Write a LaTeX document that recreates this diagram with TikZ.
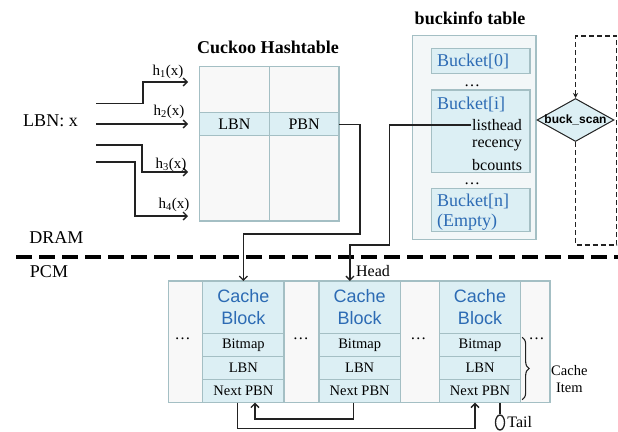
\documentclass[tikz,border=0pt]{standalone}
\usepackage{fontspec}
\setmainfont{Liberation Serif}
\setsansfont{Liberation Sans}
\usetikzlibrary{arrows.meta,positioning,shapes.geometric,decorations.pathreplacing}

\definecolor{cellfill}{HTML}{DCEFF4}
\definecolor{cellline}{HTML}{A4BFC4}
\definecolor{paper}{HTML}{F8F8F8}
\definecolor{tablebg}{HTML}{F3F7F8}
\definecolor{bluetxt}{HTML}{2C6BB4}
\definecolor{wire}{HTML}{222222}

\begin{document}
\begin{tikzpicture}[x=1pt,y=-1pt,
    cell/.style={draw=cellline,line width=1.3pt,fill=cellfill,inner sep=0pt,outer sep=0pt},
    blank/.style={cell,fill=paper},
    link/.style={draw=wire,line width=1.3pt,-{Straight Barb[length=4pt,width=8pt]}},
    lbl/.style={inner sep=1pt,font=\fontsize{16}{19}\selectfont},
    small/.style={inner sep=1pt,font=\fontsize{14.5}{17}\selectfont},
    big/.style={inner sep=1pt,font=\fontsize{18}{21}\selectfont},
    title/.style={inner sep=1pt,font=\bfseries\fontsize{18}{21}\selectfont},
    bucktxt/.style={big,text=bluetxt,anchor=west},
    blocktxt/.style={align=center,text=bluetxt,font=\sffamily\fontsize{18}{21.6}\selectfont}]

  \path[fill=white,use as bounding box] (0,0) rectangle (618,431);

  % Input key and the four hash functions
  \node[big] (key) at (50.5,120.5) {LBN: x};
  \foreach \i/\y/\dx/\ty/\lx/\ly in {1/103.3/47/82/168/72, 2/124/47/124/169/112,
                                     3/145/46/172/171/165, 4/162/39/216/174/205} {
    \coordinate (src\i) at (96,\y);
    \coordinate (tip\i) at (188,\ty);
    \draw[link] (src\i) -- ++(\dx,0) |- (tip\i);
    \node[small,font=\fontsize{15}{18}\selectfont] (hlab\i) at (\lx,\ly) {h\textsubscript{\i}(x)};
  }

  % Cuckoo hashtable
  \node[title] (httitle) at (268,47) {Cuckoo Hashtable};
  \node[blank,minimum width=69.7pt,minimum height=46pt] (ht1) at (234.4,89.7) {};
  \node[blank,minimum width=69.7pt,minimum height=46pt] (ht2) at (304.1,89.7) {};
  \node[cell,lbl,inner sep=0pt,minimum width=69.7pt,minimum height=23pt] (lbn) at (234.4,124.2) {LBN};
  \node[cell,lbl,inner sep=0pt,minimum width=69.7pt,minimum height=23pt] (pbn) at (304.1,124.2) {PBN};
  \node[blank,minimum width=69.7pt,minimum height=85.3pt] (ht3) at (234.4,178.4) {};
  \node[blank,minimum width=69.7pt,minimum height=85.3pt] (ht4) at (304.1,178.4) {};

  % buckinfo table
  \node[title] (bititle) at (470,18) {buckinfo table};
  \node[cell,fill=tablebg,minimum width=123.3pt,minimum height=203.6pt] (binfo) at (474.3,137.5) {};
  \node[cell,minimum width=98.3pt,minimum height=25pt] (bk0) at (480.8,60.8) {};
  \node[cell,minimum width=98.3pt,minimum height=82.7pt] (bki) at (480.8,131.3) {};
  \node[cell,minimum width=98.3pt,minimum height=43.4pt] (bkn) at (480.8,210) {};
  \node[bucktxt] (bk0name) at (436,61) {Bucket[0]};
  \node[bucktxt] (bkiname) at (436,104) {Bucket[i]};
  \node[lbl,anchor=west] (lhead) at (471,125) {listhead};
  \node[lbl,anchor=west] (recency) at (471,145) {recency};
  \node[lbl,anchor=west] (bcounts) at (471,165) {bcounts};
  \node[bucktxt] (bknname) at (436,201) {Bucket[n]};
  \node[bucktxt] (bknempty) at (436,222) {(Empty)};
  \node[lbl] (bdots1) at (472,86) {\dots};
  \node[lbl] (bdots2) at (472,183.5) {\dots};

  % Scanner loop
  \node[draw=wire,line width=1pt,fill=cellfill,diamond,inner sep=0pt,
        minimum width=77pt,minimum height=43pt] (scan) at (575.5,120) {};
  \node[inner sep=0pt,font=\sffamily\bfseries\fontsize{12}{14}\selectfont] (scanname) at (scan) {buck\_scan};
  \coordinate (loopbr) at (616.5,245);
  \coordinate (looptop) at (575.5,36);
  \draw[draw=wire,line width=1.1pt,dash pattern=on 5pt off 3pt,-{Stealth[length=5pt,width=5pt]}]
    (scan.south) |- (loopbr) |- (looptop) -- (scan.north);

  % DRAM / PCM boundary
  \node[big] (dram) at (56.5,238) {DRAM};
  \node[big] (pcm) at (49,272) {PCM};
  \coordinate (divl) at (16,257.3);
  \coordinate (divr) at (618,257.3);
  \draw[line width=4pt,dash pattern=on 15.5pt off 7.5pt] (divl) -- (divr);

  % Cache items in PCM
  \node[blank,minimum width=381.7pt,minimum height=121.7pt] (pcmrow) at (359.2,341.85) {};
  \foreach \i/\x in {1/243.35,2/359.65,3/480} {
    \node[cell,blocktxt,minimum width=81.3pt,minimum height=52.3pt] (blk\i) at (\x,307.15) {Cache\\Block};
    \node[cell,small,inner sep=0pt,minimum width=81.3pt,minimum height=23.13pt,below=0pt of blk\i] (bmp\i) {Bitmap};
    \node[cell,small,inner sep=0pt,minimum width=81.3pt,minimum height=23.13pt,below=0pt of bmp\i] (lbn\i) {LBN};
    \node[cell,small,inner sep=0pt,minimum width=81.3pt,minimum height=23.13pt,below=0pt of lbn\i] (nxt\i) {Next PBN};
  }
  \foreach \x [count=\n] in {182.5,300.8,418.3,536.5}
    \node[lbl] (gap\n) at (\x,338.5) {\dots};

  \draw[draw=wire,line width=1.1pt,decorate,decoration={brace,amplitude=7pt}]
    ([xshift=1.5pt,yshift=-4pt]bmp3.north east) -- ([xshift=1.5pt,yshift=3pt]nxt3.south east);
  \node[small,anchor=west,align=center] (itemlab) at (550,379) {Cache\\Item};

  % Pointers into the cache
  \coordinate (pbnbend) at (360,234);
  \draw[link] (pbn.east) -| (pbnbend) -| (blk1.north);
  \coordinate (headbend) at (389.3,245);
  \draw[link] (lhead.west) -| (headbend) -| ([xshift=-9.7pt]blk2.north);
  \node[lbl] (headlab) at (373,271) {Head};

  % Next PBN chain
  \draw[link] ([xshift=-6.3pt]nxt2.south) -- ++(0,16.3) -| ([xshift=11.6pt]nxt1.south);
  \draw[link] ([xshift=-6.1pt]nxt1.south) -- ++(0,25.6) -| ([xshift=-5pt]nxt3.south);
  \node[draw=wire,line width=1.3pt,ellipse,inner sep=0pt,minimum width=9pt,minimum height=15pt] (tailring) at (500,422.5) {};
  \draw[draw=wire,line width=1.3pt] (nxt3.south -| tailring) -- (tailring.north);
  \node[lbl,right=1pt of tailring] (taillab) {Tail};
\end{tikzpicture}
\end{document}
